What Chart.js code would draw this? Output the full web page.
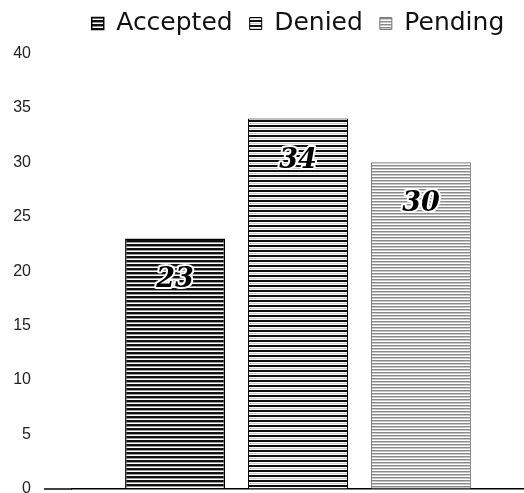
<!DOCTYPE html>
<html>
<head>
<meta charset="utf-8">
<script src="https://cdn.jsdelivr.net/npm/chart.js@4"></script>
<style>
  html, body { margin: 0; padding: 0; background: #fff; }
  #wrap { width: 524px; height: 493px; }
</style>
</head>
<body>
<div id="wrap"><canvas id="barChart"></canvas></div>
<script>
const categories = [''];
const seriesNames = ['Accepted', 'Denied', 'Pending'];
const acceptedValues = [23];
const deniedValues = [34];
const pendingValues = [30];
const yMin = 0, yMax = 40, yStep = 5;

// horizontal line fills, one colour per pixel row
function stripes(rows) {
  const c = document.createElement('canvas');
  c.width = 8;
  c.height = rows.length;
  const g = c.getContext('2d');
  rows.forEach((col, i) => {
    g.fillStyle = col;
    g.fillRect(0, i, 8, 1);
  });
  return g.createPattern(c, 'repeat');
}

const fillAccepted = stripes(['#111', '#111', '#999', '#fff']);
const fillDenied = stripes(['#111', '#111', '#fff', '#ccc', '#fff']);
const fillPending = stripes(['#8a8a8a', '#c8c8c8', '#fff']);

const valueLabels = {
  id: 'valueLabels',
  afterDatasetsDraw(chart) {
    const ctx = chart.ctx;
    ctx.save();
    ctx.font = 'italic bold 27px "DejaVu Serif"';
    ctx.textAlign = 'center';
    ctx.textBaseline = 'middle';
    ctx.lineJoin = 'round';
    chart.data.datasets.forEach((ds, i) => {
      chart.getDatasetMeta(i).data.forEach((bar, j) => {
        const v = ds.data[j];
        const y = bar.y + 42;
        ctx.strokeStyle = '#fff';
        ctx.lineWidth = 4;
        ctx.strokeText(v, bar.x, y);
        ctx.fillStyle = '#000';
        ctx.fillText(v, bar.x, y);
      });
    });
    ctx.restore();
  }
};

// the base line runs on to the left, under the tick labels' tick area
const baseLine = {
  id: 'baseLine',
  afterDraw(chart) {
    const yScale = chart.scales.y;
    const y = yScale.getPixelForValue(yMin);
    const ctx = chart.ctx;
    ctx.save();
    ctx.strokeStyle = '#000';
    ctx.lineWidth = 1.5;
    ctx.beginPath();
    ctx.moveTo(yScale.right - yScale.options.grid.tickLength, y);
    ctx.lineTo(chart.chartArea.left, y);
    ctx.stroke();
    ctx.restore();
  }
};

const ctx = document.getElementById('barChart').getContext('2d');
new Chart(ctx, {
  type: 'bar',
  data: {
    labels: categories,
    datasets: [
      { label: seriesNames[0], data: acceptedValues, backgroundColor: fillAccepted, borderColor: '#000', borderWidth: 1.5 },
      { label: seriesNames[1], data: deniedValues, backgroundColor: fillDenied, borderColor: '#000', borderWidth: 1 },
      { label: seriesNames[2], data: pendingValues, backgroundColor: fillPending, borderColor: '#777', borderWidth: 1 }
    ]
  },
  options: {
    responsive: true,
    maintainAspectRatio: false,
    animation: false,
    categoryPercentage: 0.816,
    barPercentage: 0.813,
    layout: { padding: { top: -6, left: 0, right: 0, bottom: 4 } },
    plugins: {
      legend: {
        position: 'top',
        fullSize: false,
        labels: {
          font: { family: 'DejaVu Sans', size: 25 },
          color: '#111',
          boxWidth: 12,
          boxHeight: 12,
          padding: 17
        }
      },
      // empty spacer under the legend
      title: { display: true, text: '', fullSize: false, weight: 0, padding: 0, font: { size: 6 } },
      tooltip: { enabled: false }
    },
    scales: {
      x: {
        grid: { display: false },
        ticks: { display: false },
        border: { color: '#000', width: 1.5 },
        afterFit: s => { s.height = 0; }
      },
      y: {
        min: yMin,
        max: yMax,
        ticks: {
          stepSize: yStep,
          padding: 13,
          color: '#222',
          font: { family: 'Liberation Sans', size: 16 }
        },
        grid: {
          drawOnChartArea: false,
          tickLength: 28,
          color: 'rgba(0,0,0,0)'
        },
        border: { display: false },
        afterFit: s => { s.width = 72; s.paddingTop = 0; s.paddingBottom = 0; }
      }
    }
  },
  plugins: [valueLabels, baseLine]
});
</script>
</body>
</html>
